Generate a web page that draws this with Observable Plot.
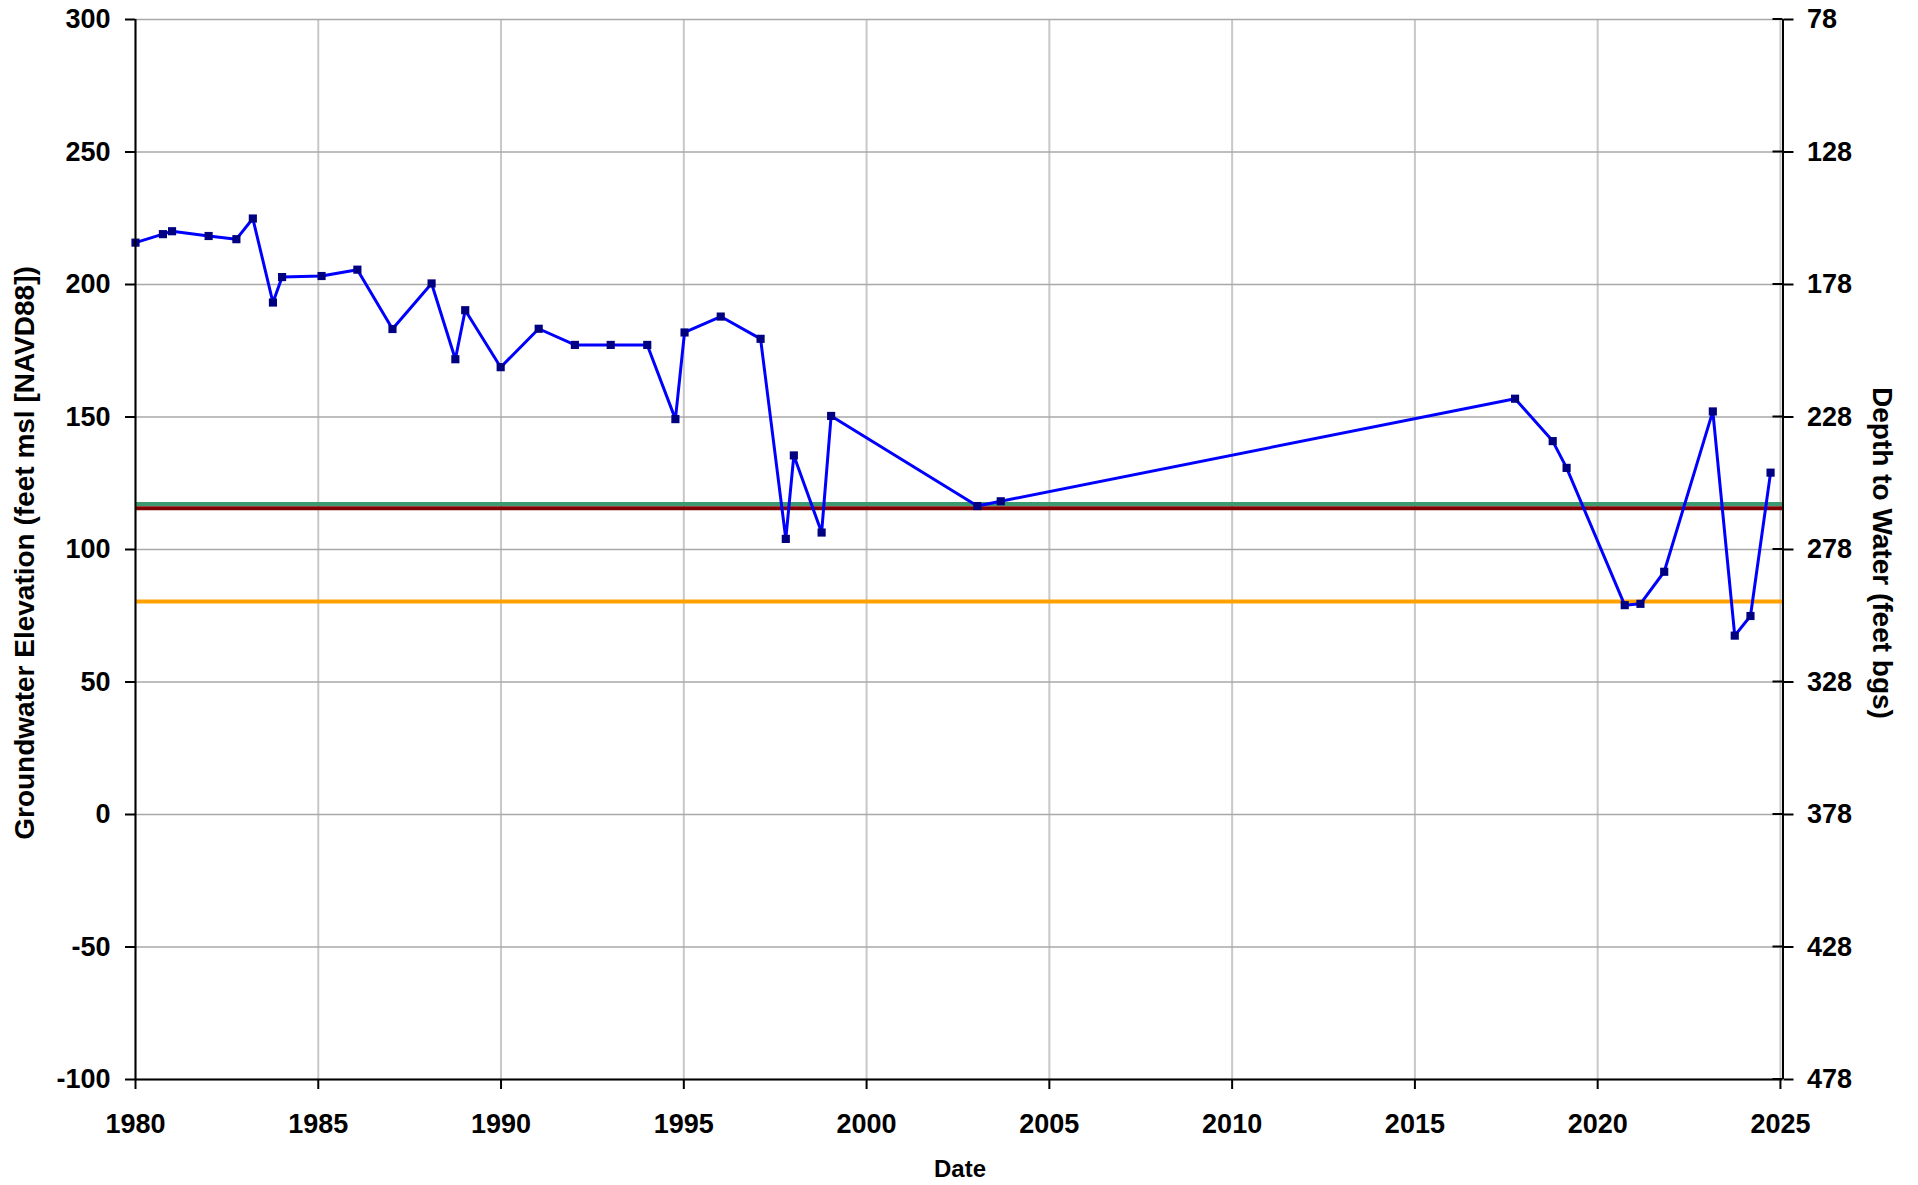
<!DOCTYPE html>
<html>
<head>
<meta charset="utf-8">
<script src="https://cdn.jsdelivr.net/npm/d3@7"></script>
<script src="https://cdn.jsdelivr.net/npm/@observablehq/plot@0.6"></script>
<style>
  html, body { margin: 0; padding: 0; background: #ffffff; }
  #chart svg { display: block; }
</style>
</head>
<body>
<div id="chart"></div>
<script>
// ---- Data ----
const years = [1980.0, 1980.75, 1981.0, 1982.0, 1982.76, 1983.21, 1983.76, 1984.01, 1985.09, 1986.07,
  1987.03, 1988.10, 1988.75, 1989.02, 1989.99, 1991.03, 1992.02, 1993.0, 1994.0, 1994.77,
  1995.02, 1996.01, 1997.10, 1997.79, 1998.01, 1998.77, 1999.03, 2003.03, 2003.67, 2017.74,
  2018.77, 2019.15, 2020.74, 2021.17, 2021.82, 2023.15, 2023.75, 2024.18, 2024.73];
const elevations = [215.8, 219.0, 220.1, 218.3, 217.1, 224.9, 193.2, 202.8, 203.2, 205.6,
  183.2, 200.4, 171.8, 190.3, 168.8, 183.3, 177.2, 177.2, 177.2, 149.2,
  181.9, 187.9, 179.5, 104.0, 135.5, 106.4, 150.4, 116.4, 118.2, 156.9,
  140.9, 130.8, 79.0, 79.5, 91.6, 152.1, 67.5, 74.9, 129.0];

// Horizontal reference levels (feet msl)
const referenceLevels = [117.2, 115.6, 80.4];
const referenceColors = ["#3d9970", "#800000", "#ffa200"];

// Tick labels
const xTicks = [1980, 1985, 1990, 1995, 2000, 2005, 2010, 2015, 2020, 2025];
const yTicks = [-100, -50, 0, 50, 100, 150, 200, 250, 300];
const depthTickLabels = ["478", "428", "378", "328", "278", "228", "178", "128", "78"];

const data = years.map((x, i) => ({x, y: elevations[i]}));
const refs = referenceLevels.map((y, i) => ({y, color: referenceColors[i]}));

const xDomain = [1980, 2025.07];

const chart = Plot.plot({
  width: 1918,
  height: 1185,
  marginLeft: 135,
  marginRight: 135.5,
  marginTop: 19,
  marginBottom: 106,
  style: {
    fontFamily: "'Liberation Sans', Arial, sans-serif",
    fontSize: "27px",
    fontWeight: "bold",
    color: "#000",
    background: "#fff",
    overflow: "visible"
  },
  x: {domain: xDomain},
  y: {domain: [-100, 300]},
  marks: [
    Plot.gridX(xTicks, {stroke: "#c8c8c8", strokeOpacity: 1, strokeWidth: 2}),
    Plot.gridY(yTicks, {stroke: "#a8a8a8", strokeOpacity: 1, strokeWidth: 1.5}),
    Plot.ruleY(refs, {y: "y", stroke: "color", strokeWidth: 4}),
    Plot.line(data, {x: "x", y: "y", stroke: "#0000ff", strokeWidth: 3}),
    Plot.dot(data, {x: "x", y: "y", symbol: "square", r: 4.6, fill: "#000080", stroke: "none"}),
    Plot.axisX(xTicks, {anchor: "bottom", tickSize: 10, tickPadding: 24, tickFormat: d => String(d), label: null, strokeWidth: 2}),
    Plot.axisY(yTicks, {anchor: "left", tickSize: 10, tickPadding: 15, tickFormat: d => String(d), label: null, strokeWidth: 2}),
    Plot.axisY(yTicks, {anchor: "right", tickSize: 10, tickPadding: 14,
      tickFormat: d => depthTickLabels[yTicks.indexOf(d)], label: null, strokeWidth: 2}),
    Plot.ruleX([xDomain[0]], {stroke: "#000", strokeWidth: 2}),
    Plot.ruleX([xDomain[1]], {stroke: "#000", strokeWidth: 2}),
    Plot.ruleY([-100], {stroke: "#000", strokeWidth: 2})
  ]
});

const svg = d3.select(chart);
svg.append("text")
  .attr("transform", "translate(34,553) rotate(-90)")
  .attr("text-anchor", "middle")
  .attr("font-size", "28px")
  .attr("font-weight", "bold")
  .attr("fill", "#000")
  .text("Groundwater Elevation (feet msl [NAVD88])");
svg.append("text")
  .attr("transform", "translate(1873,553) rotate(90)")
  .attr("text-anchor", "middle")
  .attr("font-size", "28px")
  .attr("font-weight", "bold")
  .attr("fill", "#000")
  .text("Depth to Water (feet bgs)");
svg.append("text")
  .attr("x", 960)
  .attr("y", 1177)
  .attr("text-anchor", "middle")
  .attr("font-size", "24px")
  .attr("font-weight", "bold")
  .attr("fill", "#000")
  .text("Date");

// Inner part of right-axis ticks (they cross the axis line in the reference)
const yS = chart.scale("y");
const xS = chart.scale("x");
const xr = xS.apply(xDomain[1]);
yTicks.forEach(t => {
  svg.append("line")
    .attr("x1", xr - 10).attr("x2", xr)
    .attr("y1", yS.apply(t)).attr("y2", yS.apply(t))
    .attr("stroke", "#000").attr("stroke-width", 2);
});

document.getElementById("chart").appendChild(chart);
</script>
</body>
</html>
